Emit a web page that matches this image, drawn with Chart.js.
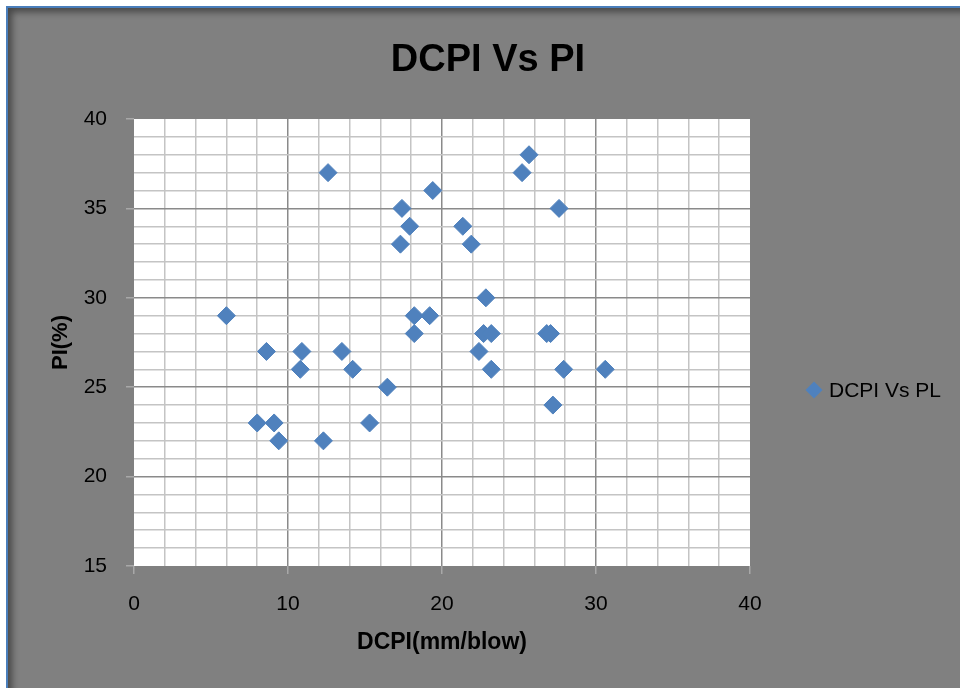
<!DOCTYPE html>
<html lang="en">
<head>
  <meta charset="UTF-8">
  <title>DCPI Vs PI</title>
  <style>
    html, body { margin: 0; padding: 0; background: #ffffff; overflow: hidden; }
    .frame {
      position: absolute; left: 6px; top: 6px; width: 1000px; height: 720px;
      background: #808080;
      border-top: 2px solid #4a7ebb; border-left: 2px solid #4a7ebb;
      box-shadow: inset 4px 4px 7px rgba(0, 0, 0, 0.45);
    }
    #myChart { position: absolute; left: 0; top: 0; }
  </style>
</head>
<body>
  <div class="frame"></div>
  <canvas id="myChart" width="960" height="688"></canvas>

<script src="https://cdn.jsdelivr.net/npm/chart.js"></script>
<script>
  const chartTitle = 'DCPI Vs PI';
  const seriesName = 'DCPI Vs PL';
  const xTitle = 'DCPI(mm/blow)';
  const yTitle = 'PI(%)';

  // DCPI (mm/blow)
  const dcpiValues = [6.0, 8.0, 8.6, 9.1, 9.4, 10.8, 10.9, 12.6, 12.3, 13.5, 14.2, 15.3, 16.45, 17.3, 17.4, 17.9, 18.2, 18.2,
    19.2, 19.4, 21.35, 21.9, 22.4, 22.7, 22.85, 23.2, 23.2, 25.2, 25.65, 26.8, 27.05, 27.2, 27.6, 27.9, 30.6];
  // PI (%)
  const piValues = [29, 23, 27, 23, 22, 26, 27, 37, 22, 27, 26, 23, 25, 33, 35, 34, 29, 28,
    29, 36, 34, 33, 27, 28, 30, 28, 26, 37, 38, 28, 28, 24, 35, 26, 26];

  const xMin = 0, xMax = 40, xMinorStep = 2, xMajorStep = 10;
  const yMin = 15, yMax = 40, yMinorStep = 1, yMajorStep = 5;

  const blue = '#4f81bd';
  const fontName = '"Liberation Sans", Arial, sans-serif';

  const points = dcpiValues.map((x, i) => ({ x: x, y: piValues[i] }));

  // grid colours: dark on major lines, light on minor, none on the plot edges
  function gridColor(ctx, major, lo, hi) {
    const v = ctx.tick.value;
    if (v === lo || v === hi) return 'rgba(0,0,0,0)';
    return v % major === 0 ? '#8a8a8a' : '#c4c4c4';
  }
  function tickColor(ctx, major) {
    return ctx.tick.value % major === 0 ? '#a8a8a8' : 'rgba(0,0,0,0)';
  }

  // white plot area
  const plotBackground = {
    id: 'plotBackground',
    beforeDraw(chart) {
      const a = chart.chartArea;
      chart.ctx.save();
      chart.ctx.fillStyle = '#ffffff';
      chart.ctx.fillRect(a.left, a.top, a.right - a.left, a.bottom - a.top);
      chart.ctx.restore();
    }
  };

  // title and legend are placed by hand, like the Excel layout
  const decorations = {
    id: 'decorations',
    afterDraw(chart) {
      const c = chart.ctx;
      c.save();
      c.fillStyle = '#000000';
      c.font = 'bold 38px ' + fontName;
      c.textAlign = 'center';
      c.textBaseline = 'alphabetic';
      c.fillText(chartTitle, 488, 71);

      // legend marker
      const lx = 814, ly = 390, r = 8.5;
      c.fillStyle = blue;
      c.beginPath();
      c.moveTo(lx - r, ly);
      c.lineTo(lx, ly - r);
      c.lineTo(lx + r, ly);
      c.lineTo(lx, ly + r);
      c.closePath();
      c.fill();

      c.fillStyle = '#000000';
      c.font = '21px ' + fontName;
      c.textAlign = 'left';
      c.textBaseline = 'middle';
      c.fillText(seriesName, 829, 391);
      c.restore();
    }
  };

  const myChart = new Chart(document.getElementById('myChart'), {
    type: 'scatter',
    data: {
      datasets: [{
        label: seriesName,
        data: points,
        pointStyle: 'rectRot',
        pointRadius: 9,
        pointHoverRadius: 9,
        backgroundColor: blue,
        borderColor: blue,
        borderWidth: 1
      }]
    },
    options: {
      responsive: false,
      animation: false,
      devicePixelRatio: 1,
      layout: { padding: { top: 119, right: 210, bottom: 0, left: 0 } },
      plugins: {
        legend: { display: false },
        title: { display: false },
        tooltip: { enabled: false }
      },
      scales: {
        x: {
          type: 'linear',
          min: xMin,
          max: xMax,
          afterFit: (scale) => { scale.height = 122; },
          border: { display: false },
          grid: {
            color: (ctx) => gridColor(ctx, xMajorStep, xMin, xMax),
            lineWidth: 1.5,
            tickLength: 8,
            tickColor: (ctx) => tickColor(ctx, xMajorStep),
            tickWidth: 1.5
          },
          ticks: {
            stepSize: xMinorStep,
            autoSkip: false,
            maxRotation: 0,
            padding: 18,
            color: '#000000',
            font: { family: fontName, size: 21 },
            callback: (v) => (v % xMajorStep === 0 ? String(v) : '')
          },
          title: {
            display: true,
            text: xTitle,
            color: '#000000',
            font: { family: fontName, size: 23, weight: 'bold' },
            padding: { top: 0, bottom: 32 }
          }
        },
        y: {
          type: 'linear',
          min: yMin,
          max: yMax,
          afterFit: (scale) => { scale.width = 134; },
          border: { display: false },
          grid: {
            color: (ctx) => gridColor(ctx, yMajorStep, yMin, yMax),
            lineWidth: 1.5,
            tickLength: 8,
            tickColor: (ctx) => tickColor(ctx, yMajorStep),
            tickWidth: 1.5
          },
          ticks: {
            stepSize: yMinorStep,
            autoSkip: false,
            padding: 19,
            color: '#000000',
            font: { family: fontName, size: 21 },
            callback: (v) => (v % yMajorStep === 0 ? String(v) : '')
          },
          title: {
            display: true,
            text: yTitle,
            color: '#000000',
            font: { family: fontName, size: 22, weight: 'bold' },
            padding: { top: 48, bottom: 0 }
          }
        }
      }
    },
    plugins: [plotBackground, decorations]
  });
</script>
</body>
</html>
